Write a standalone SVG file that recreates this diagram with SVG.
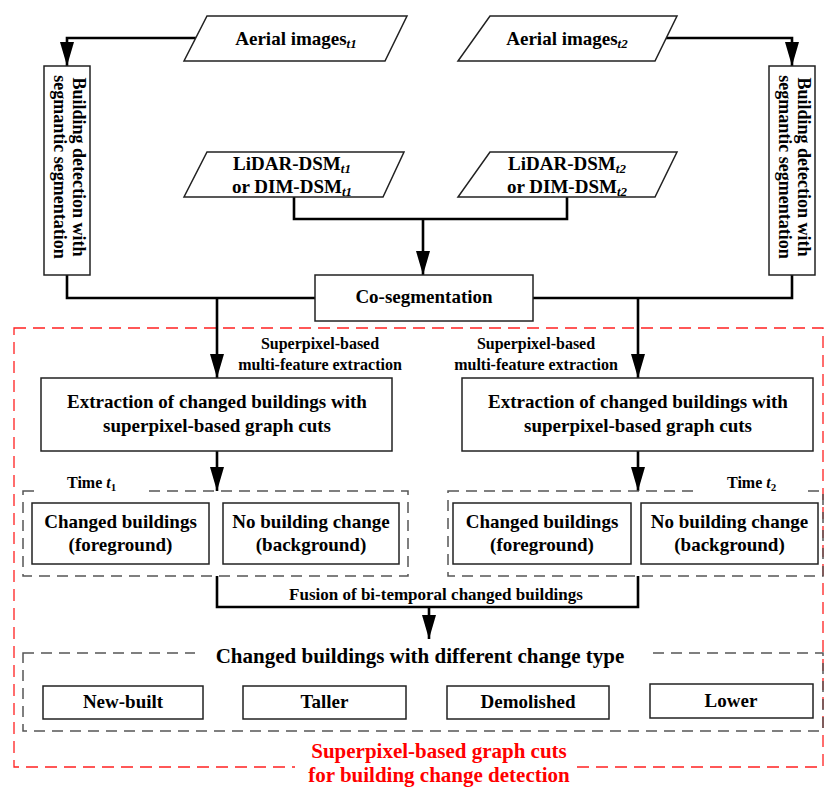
<svg xmlns="http://www.w3.org/2000/svg" width="826" height="787" viewBox="0 0 826 787">
<style>
  .box{fill:#fff;stroke:#222;stroke-width:1.5}
  .io{fill:#fff;stroke:#222;stroke-width:1.5}
  .dash{fill:none;stroke:#555;stroke-width:1.5;stroke-dasharray:11 7}
  .red{fill:none;stroke:#ff2020;stroke-width:1.3;stroke-dasharray:12 7}
  .con{fill:none;stroke:#000;stroke-width:2.6}
  .arr{fill:none;stroke:#000;stroke-width:2.6;marker-end:url(#ah)}
  .t19{font-size:19px}
  .t18{font-size:18px}
  .t16{font-size:16px}
  .t17{font-size:17px}
  .t21{font-size:21px}
  .sub{font-size:13px;font-style:italic}
  .redt{font-size:21px;fill:#ff0000}
  .mid{text-anchor:middle}
</style>
<defs>
  <marker id="ah" markerUnits="userSpaceOnUse" markerWidth="25" markerHeight="14" refX="24" refY="7" orient="auto">
    <path d="M0,0 L24,7 L0,14 Z" fill="#000"/>
  </marker>
</defs>
<rect width="826" height="787" fill="#fff"/>
<g font-family="Liberation Serif, Times New Roman, serif" font-weight="bold" fill="#000">

<g id="frame">
  <rect class="red" x="14" y="328" width="809" height="439"/>
  <rect x="295" y="762" width="282" height="10" fill="#fff"/>
  <text class="redt mid" x="439" y="758">Superpixel-based graph cuts</text>
  <text class="redt mid" x="439" y="782">for building change detection</text>
</g>

<g id="connectors">
  <path class="arr" d="M196,38 H67 V66"/>
  <path class="arr" d="M666,38 H792 V66"/>
  <path class="con" d="M67,275 V298 H315"/>
  <path class="con" d="M533,298 H792 V275"/>
  <path class="arr" d="M217,298 V378"/>
  <path class="arr" d="M638,298 V378"/>
  <path class="con" d="M294,197 V219 H567 V197"/>
  <path class="arr" d="M423,219 V275"/>
  <path class="arr" d="M217,451 V491"/>
  <path class="arr" d="M638,451 V491"/>
  <path class="con" d="M217,576 V607 H638 V576"/>
  <path class="arr" d="M429,607 V639"/>
  <text class="t17 mid" x="436" y="600">Fusion of bi-temporal changed buildings</text>
  <text class="t16 mid" x="320" y="349">Superpixel-based</text>
  <text class="t16 mid" x="320" y="370">multi-feature extraction</text>
  <text class="t16 mid" x="536" y="349">Superpixel-based</text>
  <text class="t16 mid" x="536" y="370">multi-feature extraction</text>
</g>

<g id="aerial-t1">
  <polygon class="io" points="207,16 407,16 385,61 184,61"/>
  <text class="t19 mid" x="296" y="45">Aerial images<tspan class="sub" dy="3">t1</tspan></text>
</g>
<g id="aerial-t2">
  <polygon class="io" points="490,16 677,16 655,61 458,61"/>
  <text class="t19 mid" x="567" y="45">Aerial images<tspan class="sub" dy="3">t2</tspan></text>
</g>
<g id="dsm-t1">
  <polygon class="io" points="207,152 404,152 383,197 184,197"/>
  <text class="t19 mid" x="292" y="170">LiDAR-DSM<tspan class="sub" dy="3">t1</tspan></text>
  <text class="t19 mid" x="292" y="193">or DIM-DSM<tspan class="sub" dy="3">t1</tspan></text>
</g>
<g id="dsm-t2">
  <polygon class="io" points="490,152 677,152 655,197 458,197"/>
  <text class="t19 mid" x="567" y="170">LiDAR-DSM<tspan class="sub" dy="3">t2</tspan></text>
  <text class="t19 mid" x="567" y="193">or DIM-DSM<tspan class="sub" dy="3">t2</tspan></text>
</g>

<g id="bd-left">
  <rect class="box" x="44" y="66" width="46" height="209"/>
  <text class="t18 mid" transform="translate(73,167) rotate(90)">Building detection with</text>
  <text class="t18 mid" transform="translate(54,167) rotate(90)">segmantic segmentation</text>
</g>
<g id="bd-right">
  <rect class="box" x="769" y="66" width="46" height="209"/>
  <text class="t18 mid" transform="translate(798,167) rotate(90)">Building detection with</text>
  <text class="t18 mid" transform="translate(779,167) rotate(90)">segmantic segmentation</text>
</g>

<g id="coseg">
  <rect class="box" x="315" y="275" width="218" height="46"/>
  <text class="t19 mid" x="424" y="303">Co-segmentation</text>
</g>

<g id="extract-left">
  <rect class="box" x="41" y="378" width="351" height="73"/>
  <text class="t19 mid" x="217" y="408">Extraction of changed buildings with</text>
  <text class="t19 mid" x="217" y="432">superpixel-based graph cuts</text>
</g>
<g id="extract-right">
  <rect class="box" x="462" y="378" width="351" height="73"/>
  <text class="t19 mid" x="638" y="408">Extraction of changed buildings with</text>
  <text class="t19 mid" x="638" y="432">superpixel-based graph cuts</text>
</g>

<g id="time-t1">
  <rect class="dash" x="23" y="491" width="385" height="85"/>
  <rect x="40" y="486" width="103" height="10" fill="#fff"/>
  <text class="t16" x="67" y="488">Time <tspan font-style="italic">t</tspan><tspan font-size="11" dy="3">1</tspan></text>
</g>
<g id="changed-t1">
  <rect class="box" x="32" y="503" width="177" height="61"/>
  <text class="t19 mid" x="120.5" y="528">Changed buildings</text>
  <text class="t19 mid" x="120.5" y="551">(foreground)</text>
</g>
<g id="nochange-t1">
  <rect class="box" x="223" y="503" width="176" height="61"/>
  <text class="t19 mid" x="311" y="528">No building change</text>
  <text class="t19 mid" x="311" y="551">(background)</text>
</g>

<g id="time-t2">
  <rect class="dash" x="448" y="491" width="375" height="85"/>
  <rect x="693" y="486" width="115" height="10" fill="#fff"/>
  <text class="t16" x="727" y="488">Time <tspan font-style="italic">t</tspan><tspan font-size="11" dy="3">2</tspan></text>
</g>
<g id="changed-t2">
  <rect class="box" x="453" y="503" width="178" height="61"/>
  <text class="t19 mid" x="542" y="528">Changed buildings</text>
  <text class="t19 mid" x="542" y="551">(foreground)</text>
</g>
<g id="nochange-t2">
  <rect class="box" x="641" y="503" width="177" height="61"/>
  <text class="t19 mid" x="729.5" y="528">No building change</text>
  <text class="t19 mid" x="729.5" y="551">(background)</text>
</g>

<g id="types">
  <rect class="dash" x="23" y="653" width="800" height="78"/>
  <rect x="195" y="648" width="453" height="10" fill="#fff"/>
  <text class="t21 mid" x="420" y="663">Changed buildings with different change type</text>
</g>
<g id="new-built">
  <rect class="box" x="43" y="686" width="160" height="33"/>
  <text class="t19 mid" x="123" y="708">New-built</text>
</g>
<g id="taller">
  <rect class="box" x="243" y="686" width="163" height="33"/>
  <text class="t19 mid" x="324.5" y="708">Taller</text>
</g>
<g id="demolished">
  <rect class="box" x="447" y="686" width="162" height="33"/>
  <text class="t19 mid" x="528" y="708">Demolished</text>
</g>
<g id="lower">
  <rect class="box" x="650" y="684" width="163" height="34"/>
  <text class="t19 mid" x="731" y="707">Lower</text>
</g>
</g>
</svg>
